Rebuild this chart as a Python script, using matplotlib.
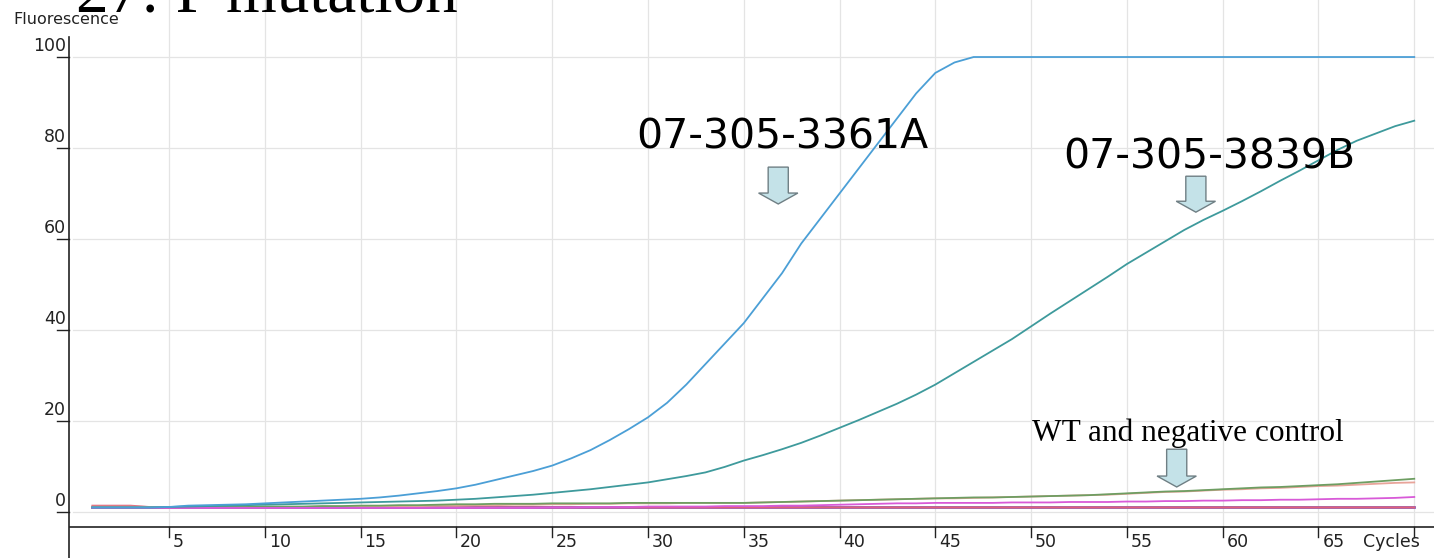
import matplotlib
matplotlib.use("Agg")
import matplotlib.pyplot as plt
from matplotlib.patches import FancyArrow

W, H, DPI = 1434, 558, 100

cycles = list(range(1, 71))

sample_3361A = [1.0, 1.0, 1.0, 1.0, 1.1, 1.4, 1.5, 1.6, 1.7, 1.9,
                2.1, 2.3, 2.5, 2.7, 2.9, 3.2, 3.6, 4.1, 4.6, 5.2,
                6.0, 7.0, 8.0, 9.0, 10.2, 11.8, 13.6, 15.8, 18.2, 20.8,
                24.0, 28.0, 32.5, 37.0, 41.5, 47.0, 52.5, 59.0, 64.5, 70.0,
                75.5, 81.0, 86.5, 92.0, 96.5, 98.8, 100, 100, 100, 100,
                100, 100, 100, 100, 100, 100, 100, 100, 100, 100,
                100, 100, 100, 100, 100, 100, 100, 100, 100, 100]

sample_3839B = [1.0, 1.0, 1.0, 1.0, 1.1, 1.2, 1.3, 1.4, 1.5, 1.6,
                1.7, 1.8, 1.9, 2.0, 2.1, 2.2, 2.3, 2.4, 2.5, 2.7,
                2.9, 3.2, 3.5, 3.8, 4.2, 4.6, 5.0, 5.5, 6.0, 6.5,
                7.2, 7.9, 8.7, 9.9, 11.3, 12.5, 13.8, 15.2, 16.8, 18.5,
                20.2, 22.0, 23.8, 25.8, 28.0, 30.5, 33.0, 35.5, 38.0, 40.8,
                43.6, 46.3, 49.0, 51.7, 54.5, 57.0, 59.5, 62.0, 64.2, 66.2,
                68.3, 70.5, 72.8, 75.0, 77.3, 79.6, 81.6, 83.2, 84.8, 86.0]

wt_green = [1.0, 1.0, 1.0, 1.0, 1.0, 1.1, 1.1, 1.1, 1.1, 1.2,
            1.2, 1.2, 1.3, 1.3, 1.4, 1.4, 1.5, 1.5, 1.6, 1.7,
            1.7, 1.8, 1.8, 1.8, 1.9, 1.9, 1.9, 1.9, 2.0, 2.0,
            2.0, 2.0, 2.0, 2.0, 2.0, 2.1, 2.2, 2.3, 2.4, 2.5,
            2.6, 2.7, 2.8, 2.9, 3.0, 3.1, 3.2, 3.2, 3.3, 3.4,
            3.5, 3.6, 3.7, 3.9, 4.1, 4.3, 4.5, 4.6, 4.8, 5.0,
            5.2, 5.4, 5.5, 5.7, 5.9, 6.1, 6.4, 6.7, 7.0, 7.3]

wt_salmon = [1.2, 1.2, 1.2, 1.1, 1.1, 1.1, 1.1, 1.1, 1.1, 1.1,
             1.1, 1.1, 1.2, 1.2, 1.2, 1.3, 1.3, 1.3, 1.4, 1.4,
             1.5, 1.5, 1.6, 1.6, 1.7, 1.7, 1.8, 1.8, 1.9, 1.9,
             1.9, 2.0, 2.0, 2.0, 2.0, 2.1, 2.2, 2.3, 2.4, 2.5,
             2.6, 2.7, 2.8, 2.9, 3.0, 3.0, 3.1, 3.2, 3.3, 3.4,
             3.5, 3.6, 3.7, 3.8, 4.0, 4.2, 4.4, 4.5, 4.7, 4.9,
             5.0, 5.2, 5.3, 5.5, 5.7, 5.8, 6.0, 6.2, 6.4, 6.5]

neg_magenta = [0.9, 0.9, 0.9, 0.9, 0.9, 0.9, 0.9, 0.9, 0.9, 0.9,
               0.9, 0.9, 0.9, 0.9, 0.9, 0.9, 0.9, 0.9, 0.9, 0.9,
               0.9, 0.9, 0.9, 0.9, 1.0, 1.0, 1.1, 1.1, 1.1, 1.2,
               1.2, 1.2, 1.2, 1.3, 1.3, 1.3, 1.4, 1.4, 1.5, 1.6,
               1.7, 1.8, 1.9, 1.9, 2.0, 2.0, 2.0, 2.0, 2.1, 2.1,
               2.1, 2.2, 2.2, 2.2, 2.3, 2.3, 2.4, 2.4, 2.5, 2.5,
               2.6, 2.6, 2.7, 2.7, 2.8, 2.9, 2.9, 3.0, 3.1, 3.3]

neg_red = [1.4, 1.4, 1.4, 1.1, 1.0, 1.0, 1.0, 1.0, 1.0, 1.0,
           1.0, 1.0, 1.0, 1.0, 1.0, 1.0, 1.0, 1.0, 1.0, 1.0,
           1.0, 1.0, 1.0, 1.0, 1.0, 1.0, 1.0, 1.0, 1.0, 1.0,
           1.0, 1.0, 1.0, 1.0, 1.0, 1.0, 1.0, 1.0, 1.0, 1.0,
           1.0, 1.0, 1.0, 1.0, 1.0, 1.0, 1.0, 1.0, 1.0, 1.0,
           1.0, 1.0, 1.0, 1.0, 1.0, 1.0, 1.0, 1.0, 1.0, 1.0,
           1.0, 1.0, 1.0, 1.0, 1.0, 1.0, 1.0, 1.0, 1.0, 1.0]

neg_purple = [1.0, 1.0, 1.0, 1.0, 1.0, 1.0, 1.0, 1.0, 1.0, 1.0,
              1.0, 1.0, 1.0, 1.0, 1.0, 1.0, 1.0, 1.0, 1.0, 1.0,
              1.0, 1.0, 1.0, 1.0, 1.0, 1.0, 1.0, 1.0, 1.0, 1.0,
              1.0, 1.0, 1.0, 1.0, 1.0, 1.0, 1.0, 1.0, 1.0, 1.0,
              1.0, 1.0, 1.0, 1.0, 1.0, 1.0, 1.0, 1.0, 1.0, 1.0,
              1.0, 1.0, 1.0, 1.0, 1.0, 1.0, 1.0, 1.0, 1.0, 1.0,
              1.0, 1.0, 1.0, 1.0, 1.0, 1.0, 1.0, 1.0, 1.0, 1.0]

x_ticks = [5, 10, 15, 20, 25, 30, 35, 40, 45, 50, 55, 60, 65]
x_grid = [5, 10, 15, 20, 25, 30, 35, 40, 45, 50, 55, 60, 65, 70]
y_ticks = [0, 20, 40, 60, 80, 100]

title_text = "27: P mutation"
label_A = "07-305-3361A"
label_B = "07-305-3839B"
label_WT = "WT and negative control"

# ---------------------------------------------------------------
fig = plt.figure(figsize=(W / DPI, H / DPI), dpi=DPI)
fig.patch.set_facecolor("white")
ax = fig.add_axes([69 / W, 0, 1 - 69 / W, 1])
XMIN, XMAX = -0.22, 71.03
YMIN, YMAX = -10.11, 112.53
ax.set_xlim(XMIN, XMAX)
ax.set_ylim(YMIN, YMAX)
for s in ["top", "right", "bottom"]:
    ax.spines[s].set_visible(False)
ax.spines["left"].set_bounds(YMIN, 104.4)
ax.spines["left"].set_color("#222222")
ax.spines["left"].set_linewidth(1.2)
ax.set_xticks([])
ax.set_yticks([])

X_AXIS_Y = -3.3
grid_c = "#e4e4e4"
for g in x_grid:
    ax.plot([g, g], [X_AXIS_Y, YMAX], color=grid_c, lw=0.9, zorder=0)
for g in y_ticks:
    ax.plot([0, XMAX], [g, g], color=grid_c, lw=0.9, zorder=0)

# x axis line, ticks and labels
ax.plot([XMIN, XMAX], [X_AXIS_Y, X_AXIS_Y], color="#222222", lw=1.2, zorder=3)
for t in x_ticks + [70]:
    ax.plot([t, t], [X_AXIS_Y, -5.5], color="#222222", lw=1.0, zorder=3)
for t in x_ticks:
    ax.text(t + 0.2, -6.6, str(t), fontsize=12.5, color="#222222",
            ha="left", va="center", family="DejaVu Sans")
ax.text(67.3, -6.6, "Cycles", fontsize=12.5, color="#222222",
        ha="left", va="center", family="DejaVu Sans", clip_on=False)

# y ticks and labels
for t in y_ticks:
    ax.plot([-0.85, XMIN], [t, t], color="#222222", lw=1.0, clip_on=False, zorder=3)
    ax.text(-0.38, t + 2.5, str(t), fontsize=12.5, color="#222222",
            ha="right", va="center", family="DejaVu Sans", clip_on=False)

# curves
lw = 1.3
ax.plot(cycles, neg_purple, color="#8a5bb5", lw=2.0, zorder=2)
ax.plot(cycles, neg_red, color="#e0607a", lw=lw, zorder=2)
ax.plot(cycles, wt_salmon, color="#e8a49a", lw=lw, zorder=2)
ax.plot(cycles, wt_green, color="#6e9e62", lw=lw, zorder=2)
ax.plot(cycles, neg_magenta, color="#d85ad8", lw=lw, zorder=2)
ax.plot(cycles, sample_3839B, color="#3e9a9c", lw=lw, zorder=2)
ax.plot(cycles, sample_3361A, color="#4b9fd6", lw=lw, zorder=2)

# annotations
ax.text(37.0, 79.8, label_A, fontsize=29.5, family="DejaVu Sans",
        ha="center", va="baseline", color="black")
ax.text(59.3, 75.6, label_B, fontsize=29.5, family="DejaVu Sans",
        ha="center", va="baseline", color="black")
ax.text(58.2, 15.6, label_WT, fontsize=22.5, family="Liberation Serif",
        ha="center", va="baseline", color="black")

arrows = [(36.8, 75.8, 67.7), (58.6, 73.8, 65.9), (57.6, 13.8, 5.5)]
for ax_x, y_top, y_tip in arrows:
    ax.add_patch(FancyArrow(ax_x, y_top, 0, y_tip - y_top, width=1.05,
                            head_width=2.05, head_length=2.4,
                            length_includes_head=True,
                            facecolor="#c4e2e8", edgecolor="#6f7f84",
                            lw=1.0, zorder=4))

fig.text(76 / W, 1 - 11 / H, title_text, fontsize=47, family="Liberation Serif",
         ha="left", va="baseline", color="black")
fig.text(13 / W, 1 - 20 / H, "Fluorescence", fontsize=11.5, color="#222222",
         ha="left", va="center", family="DejaVu Sans")

fig.savefig("out.png", dpi=DPI)
